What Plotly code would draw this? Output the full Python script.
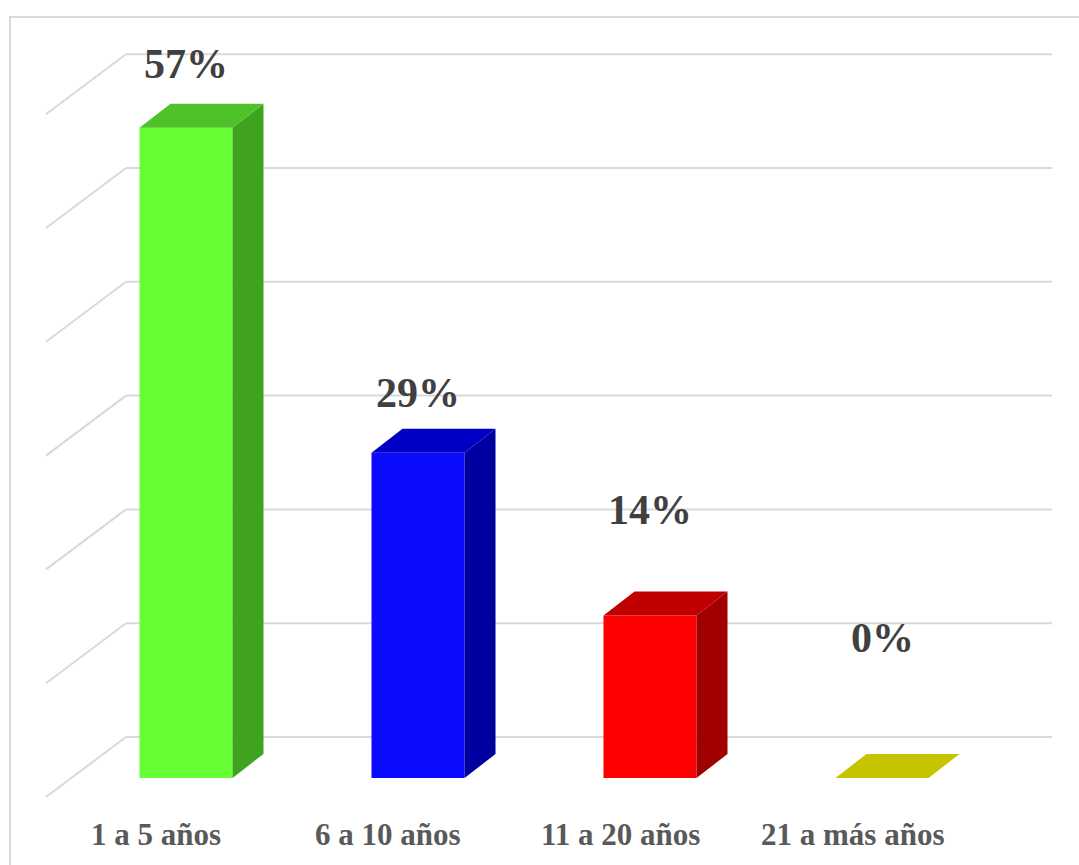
import plotly.graph_objects as go

# ---- data ----
categories = ["1 a 5 años", "6 a 10 años", "11 a 20 años", "21 a más años"]
percent = [57.14, 28.57, 14.29, 0.0]
tick_values = [0, 10, 20, 30, 40, 50, 60]

# ---- styling ----
front_colors = ["#66ff33", "#0a0aff", "#ff0000", "#c4c400"]
top_colors = ["#4fc129", "#0000c4", "#c00000", "#c4c400"]
side_colors = ["#40a320", "#0000a0", "#a00000", "#a0a000"]
grid_color = "#d9d9d9"

W, H = 1079, 865
PX_X = 232.0        # pixels per category step
PX_Y = 11.38        # pixels per percentage point
X0_PX, Y0_PX = 186.0, 778.0  # pixel of category 0 centre / value 0 on the bar fronts


def dx(px):
    return px / PX_X


def dy(px):
    return px / PX_Y


BAR_W = dx(93)
DEPTH = (dx(31), dy(24))          # bar depth vector
WALL = dy(41)                     # back wall lift relative to bar fronts
WALL_LEFT, WALL_RIGHT = dx(126 - X0_PX), dx(1052 - X0_PX)
FLOOR_DEPTH = (dx(-80), dy(-60))  # from back wall to front floor edge
LABEL_LIFT = [5.6, 5.3, 9.3, 12.3]

fig = go.Figure()

# back wall gridlines with their slanted side-wall continuation (behind the bars)
shapes = []
for t in tick_values:
    yb = t + WALL
    shapes.append(dict(type="line", xref="x", yref="y", layer="below",
                       x0=WALL_LEFT, x1=WALL_RIGHT, y0=yb, y1=yb,
                       line=dict(color=grid_color, width=2)))
    shapes.append(dict(type="line", xref="x", yref="y", layer="below",
                       x0=WALL_LEFT + FLOOR_DEPTH[0], x1=WALL_LEFT,
                       y0=yb + FLOOR_DEPTH[1], y1=yb,
                       line=dict(color=grid_color, width=2)))
shapes.append(dict(type="rect", xref="paper", yref="paper",
                   x0=10 / W, x1=1.01, y0=-0.01, y1=1 - 17 / H,
                   line=dict(color=grid_color, width=2), layer="below"))

# bar fronts
fig.add_trace(go.Bar(
    x=list(range(len(categories))), y=percent, width=BAR_W,
    marker=dict(color=front_colors, line=dict(width=0)),
    hoverinfo="skip", showlegend=False))

# side and top faces
for i, v in enumerate(percent):
    xl, xr = i - BAR_W / 2, i + BAR_W / 2
    ddx, ddy = DEPTH
    if v > 0:
        fig.add_trace(go.Scatter(
            x=[xr, xr, xr + ddx, xr + ddx, xr],
            y=[0, v, v + ddy, ddy, 0],
            fill="toself", fillcolor=side_colors[i], mode="lines",
            line=dict(width=0, color=side_colors[i]),
            hoverinfo="skip", showlegend=False))
    fig.add_trace(go.Scatter(
        x=[xl, xr, xr + ddx, xl + ddx, xl],
        y=[v, v, v + ddy, v + ddy, v],
        fill="toself", fillcolor=top_colors[i], mode="lines",
        line=dict(width=0, color=top_colors[i]),
        hoverinfo="skip", showlegend=False))

annotations = []
for i, v in enumerate(percent):
    annotations.append(dict(
        x=i, y=v + LABEL_LIFT[i], xref="x", yref="y",
        text="<b>%d%%</b>" % round(v),
        showarrow=False, xanchor="center", yanchor="middle",
        font=dict(family="Liberation Serif", size=42, color="#404040")))
    annotations.append(dict(
        x=i, y=dy(Y0_PX - 834), xref="x", yref="y",
        text="<b>" + categories[i] + "</b>",
        showarrow=False, xanchor="center", yanchor="middle", xshift=-30,
        font=dict(family="Liberation Serif", size=31, color="#595959")))

fig.update_layout(
    width=W, height=H,
    margin=dict(l=0, r=0, t=0, b=0),
    paper_bgcolor="white", plot_bgcolor="white",
    xaxis=dict(range=[dx(-X0_PX), dx(W - X0_PX)], visible=False, fixedrange=True),
    yaxis=dict(range=[dy(Y0_PX - H), dy(Y0_PX)], visible=False, fixedrange=True),
    annotations=annotations,
    shapes=shapes,
    showlegend=False,
)

fig.write_html("out.html")
